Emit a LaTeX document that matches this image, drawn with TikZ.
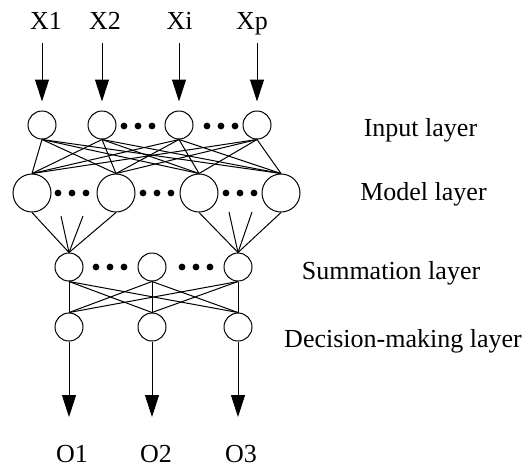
\documentclass[tikz,border=0pt]{standalone}
\usepackage{fontspec}
\setmainfont{Liberation Serif}
\usepackage{tikz}
\usetikzlibrary{arrows.meta}

\begin{document}
\begin{tikzpicture}
				[x=0.5pt, y=-0.5pt, every node/.style={inner sep=0pt},
				 unit/.style={circle, minimum size=14pt, line width=0.5pt, draw=black},
				 bigunit/.style={circle, minimum size=19pt, line width=0.5pt, draw=black},
				 blob/.style={circle, minimum size=3.4pt, fill=black},
				 lbl/.style={anchor=base, font=\fontsize{13}{15}\selectfont},
				 link/.style={line width=0.5pt, color=black},
				 feed/.style={line width=0.5pt, color=black, -{Triangle[length=11pt, width=7pt]}}]
				\useasboundingbox (0,0) rectangle (528,468);
				% input layer
				\node (i1) [unit] at (42, 125)  {};
				\node (i2) [unit] at (102, 125)  {};
				\node (i3) [unit] at (179, 125)  {};
				\node (i4) [unit] at (257, 125)  {};
				\node [blob] at (124, 126) {};
				\node [blob] at (138, 126) {};
				\node [blob] at (152, 126) {};
				\node [blob] at (207, 126) {};
				\node [blob] at (221, 126) {};
				\node [blob] at (235, 126) {};
				% model layer
				\node (m1) [bigunit] at (32, 193)  {};
				\node (m2) [bigunit] at (116, 193)  {};
				\node (m3) [bigunit] at (199, 193)  {};
				\node (m4) [bigunit] at (281, 193)  {};
				\node [blob] at (58, 193) {};
				\node [blob] at (72, 193) {};
				\node [blob] at (86, 193) {};
				\node [blob] at (143, 193) {};
				\node [blob] at (157, 193) {};
				\node [blob] at (171, 193) {};
				\node [blob] at (226, 193) {};
				\node [blob] at (240, 193) {};
				\node [blob] at (254, 193) {};
				% summation layer
				\node (s1) [unit] at (69, 267)  {};
				\node (s2) [unit] at (152, 267)  {};
				\node (s3) [unit] at (238, 267)  {};
				\node [blob] at (96, 267) {};
				\node [blob] at (110, 267) {};
				\node [blob] at (124, 267) {};
				\node [blob] at (182, 267) {};
				\node [blob] at (196, 267) {};
				\node [blob] at (210, 267) {};
				% decision-making layer
				\node (d1) [unit] at (69, 327)  {};
				\node (d2) [unit] at (152, 327)  {};
				\node (d3) [unit] at (238, 327)  {};
				% texts
				\node (x1) [lbl] at (46, 29) {X1};
				\node (x2) [lbl] at (105, 29) {X2};
				\node (x3) [lbl] at (179.5, 29) {Xi};
				\node (x4) [lbl] at (252, 29) {Xp};
				\node (o1) [lbl] at (72, 462) {O1};
				\node (o2) [lbl] at (156, 462) {O2};
				\node (o3) [lbl] at (241, 462) {O3};
				\node (l1) [lbl] at (420.5, 136) {Input layer};
				\node (l2) [lbl] at (423.5, 200) {Model layer};
				\node (l3) [lbl] at (391, 279) {Summation layer};
				\node (l4) [lbl] at (403, 347) {Decision-making layer};
				% arrow ends
				\coordinate (a1) at (42, 43);
				\coordinate (a2) at (102, 43);
				\coordinate (a3) at (179, 43);
				\coordinate (a4) at (257, 43);
				\coordinate (e1) at (69, 417);
				\coordinate (e2) at (152, 417);
				\coordinate (e3) at (238, 417);
				\coordinate (c1) at (61, 216);
				\coordinate (c2) at (83, 216);
				\coordinate (c3) at (229, 212);
				\coordinate (c4) at (252, 212);
				% inputs and outputs
				\draw [feed, shorten >=4.5pt] (a1) to (i1);
				\draw [feed, shorten >=4.5pt] (a2) to (i2);
				\draw [feed, shorten >=4.5pt] (a3) to (i3);
				\draw [feed, shorten >=4.5pt] (a4) to (i4);
				\draw [feed] (d1) to (e1);
				\draw [feed] (d2) to (e2);
				\draw [feed] (d3) to (e3);
				% input to model
				\draw [link] (i1.south) to (m1.north);
				\draw [link] (i1.south) to (m2.north);
				\draw [link] (i1.south) to (m3.north);
				\draw [link] (i1.south) to (m4.north);
				\draw [link] (i2.south) to (m1.north);
				\draw [link] (i2.south) to (m2.north);
				\draw [link] (i2.south) to (m3.north);
				\draw [link] (i2.south) to (m4.north);
				\draw [link] (i3.south) to (m1.north);
				\draw [link] (i3.south) to (m2.north);
				\draw [link] (i3.south) to (m3.north);
				\draw [link] (i3.south) to (m4.north);
				\draw [link] (i4.south) to (m1.north);
				\draw [link] (i4.south) to (m2.north);
				\draw [link] (i4.south) to (m3.north);
				\draw [link] (i4.south) to (m4.north);
				% model to summation
				\draw [link] (m1.south) to (s1.north);
				\draw [link] (c1) to (s1.north);
				\draw [link] (c2) to (s1.north);
				\draw [link] (m2.south) to (s1.north);
				\draw [link] (m3.south) to (s3.north);
				\draw [link] (c3) to (s3.north);
				\draw [link] (c4) to (s3.north);
				\draw [link] (m4.south) to (s3.north);
				% summation to decision
				\draw [link] (s1.south) to (d1.north);
				\draw [link] (s1.south) to (d2.north);
				\draw [link] (s1.south) to (d3.north);
				\draw [link] (s2.south) to (d1.north);
				\draw [link] (s2.south) to (d2.north);
				\draw [link] (s2.south) to (d3.north);
				\draw [link] (s3.south) to (d1.north);
				\draw [link] (s3.south) to (d2.north);
				\draw [link] (s3.south) to (d3.north);
		\end{tikzpicture}
\end{document}
